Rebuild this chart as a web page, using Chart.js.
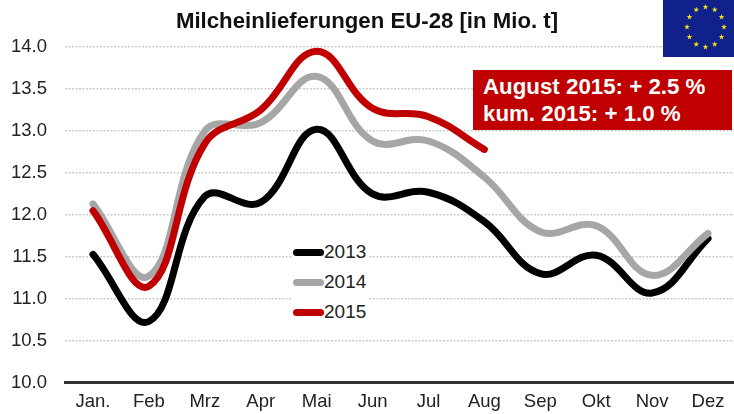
<!DOCTYPE html>
<html><head><meta charset="utf-8">
<script src="https://cdn.jsdelivr.net/npm/chart.js@4"></script>
<style>
html,body{margin:0;padding:0;background:#fff;overflow:hidden}
#wrap{position:relative;width:734px;height:414px;overflow:hidden;font-family:"Liberation Sans",Arial,sans-serif}
#c{position:absolute;left:0;top:0}
#title{position:absolute;left:0;top:8px;width:734px;text-align:center;font-weight:bold;font-size:22.2px;line-height:26px;color:#111;white-space:nowrap}
#flag{position:absolute;left:663px;top:0;width:71px;height:57px}
#box{position:absolute;left:473px;top:70px;width:259px;height:60px;background:#c00000;color:#fff;font-weight:bold;font-size:22.3px;line-height:27px;padding:3px 0 0 10px;box-sizing:border-box;white-space:nowrap}
#legend{position:absolute;left:293px;top:237px;background:#fff;padding:0 2px 0 0;font-size:19px;color:#222}
.row{display:flex;align-items:center;height:30px}
.sw{width:31px;height:7px;border-radius:4px;margin-right:0}
</style></head><body>
<div id="wrap">
<canvas id="c" width="736" height="414"></canvas>
<div id="title">Milcheinlieferungen EU-28 [in Mio. t]</div>
<svg id="flag" viewBox="0 0 71 57"></svg>
<div id="box">August 2015: + 2.5 %<br>kum. 2015: + 1.0 %</div>
<div id="legend"></div>
</div>
<script>
const categories=["Jan.","Feb","Mrz","Apr","Mai","Jun","Jul","Aug","Sep","Okt","Nov","Dez"];
const years=["2013","2014","2015"];
const values2013=[11.53,10.73,12.22,12.15,13.02,12.25,12.27,11.92,11.30,11.52,11.07,11.72];
const values2014=[12.13,11.27,13.00,13.10,13.65,12.88,12.88,12.45,11.80,11.87,11.28,11.78];
const values2015=[12.05,11.15,12.85,13.25,13.95,13.27,13.17,12.78];
const colors=["#000000","#a6a6a6","#c00000"];

const datasets=[values2013,values2014,values2015].map((d,i)=>({
  label:years[i],data:d,borderColor:colors[i],backgroundColor:colors[i],
  borderWidth:7,pointRadius:0,tension:0.4,borderCapStyle:'round',borderJoinStyle:'round',fill:false,order:3-i
}));
const tickFont={family:'"Liberation Sans",Arial,sans-serif',size:18.5};
new Chart(document.getElementById('c'),{
  type:'line',
  data:{labels:categories,datasets},
  options:{
    responsive:false,animation:false,
    layout:{padding:{left:0,right:0,top:47,bottom:1}},
    plugins:{legend:{display:false},title:{display:false},tooltip:{enabled:false}},
    scales:{
      x:{offset:true,grid:{display:false},border:{color:'#333',width:3},
         ticks:{font:tickFont,color:'#222',padding:0,maxRotation:0,autoSkip:false}},
      y:{min:10,max:14,afterFit(s){s.width=65;},
         grid:{color:'#cccccc',drawTicks:false,lineWidth:1.5},
         border:{display:false,dash:[2,1.5]},
         ticks:{stepSize:0.5,font:tickFont,color:'#222',padding:18,callback:v=>v.toFixed(1)}}
    }
  }
});

const legend=document.getElementById('legend');
years.forEach((y,i)=>{
  const r=document.createElement('div');r.className='row';
  const s=document.createElement('div');s.className='sw';s.style.background=colors[i];
  const t=document.createElement('span');t.textContent=y;
  r.append(s,t);legend.append(r);
});

const flag=document.getElementById('flag');
let svg='<rect width="71" height="57" fill="#10218b"/>';
for(let k=0;k<12;k++){
  const a=k*Math.PI/6,cx=42.5+18.5*Math.sin(a),cy=27-20*Math.cos(a);
  let p=[];
  for(let j=0;j<10;j++){
    const r=j%2?1.2:3,b=j*Math.PI/5;
    p.push((cx+r*Math.sin(b)).toFixed(2)+','+(cy-r*Math.cos(b)).toFixed(2));
  }
  svg+='<polygon fill="#f7e017" points="'+p.join(' ')+'"/>';
}
flag.innerHTML=svg;
</script>
</body></html>
